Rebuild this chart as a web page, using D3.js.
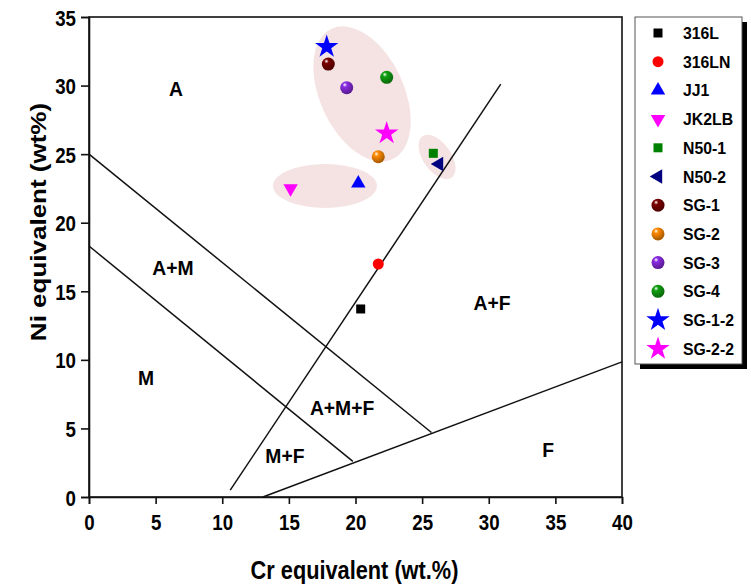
<!DOCTYPE html>
<html>
<head>
<meta charset="utf-8">
<script src="https://cdn.jsdelivr.net/npm/d3@7"></script>
<style>
  html, body { margin: 0; padding: 0; background: #fff; }
  svg { display: block; font-family: "Liberation Sans", Arial, sans-serif; }
</style>
</head>
<body>
<svg id="chart" width="751" height="586"></svg>
<script>
// ---- Data ----
const categories = ["316L","316LN","JJ1","JK2LB","N50-1","N50-2","SG-1","SG-2","SG-3","SG-4","SG-1-2","SG-2-2"];
const crEq = [20.39, 21.71, 20.21, 15.13, 25.84, 26.27, 17.96, 21.71, 19.34, 22.34, 17.84, 22.34];
const niEq = [13.71, 16.99, 22.87, 22.5, 25.06, 24.28, 31.57, 24.81, 29.85, 30.6, 32.83, 26.52];
const markerShapes = ["square","circle","triangleUp","triangleDown","square","triangleLeft","sphere","sphere","sphere","sphere","star","star"];
const markerColors = ["#000000","#ff0000","#0000ff","#ff00ff","#008000","#000080","#7a0000","#ff8a00","#8a2be2","#10a010","#0000ff","#ff00ff"];

const xTicks = [0,5,10,15,20,25,30,35,40];
const yTicks = [0,5,10,15,20,25,30,35];

// Schaeffler diagram phase boundaries (Cr eq, Ni eq)
const boundaryStart = [[0,25],[0,18.3],[10.6,0.5],[13.05,0]];
const boundaryEnd   = [[25.7,4.7],[19.8,2.6],[30.9,30.1],[40,9.85]];

const regionNames = ["A","A+M","M","A+M+F","M+F","A+F","F"];
const regionPos   = [[6.53,29.8],[6.3,16.7],[4.28,8.68],[18.99,6.49],[14.7,3.06],[30.24,14.15],[34.45,3.43]];

// highlight ellipses: centre (Cr, Ni), semi-axes in Cr units, rotation (deg)
const groupCentre = [[20.49,29.39],[26.12,24.79],[17.71,22.68]];
const groupAxes   = [[5.4,3.15],[1.9,1.05],[3.9,1.65]];
const groupAngle  = [65, 55, 0];

// ---- Layout ----
const svg = d3.select("#chart");
const M = {left: 89, right: 622, top: 17, bottom: 497};
const x = d3.scaleLinear().domain([0,40]).range([M.left, M.right]);
const y = d3.scaleLinear().domain([0,35]).range([M.bottom, M.top]);
const font = '"Liberation Sans", Arial, sans-serif';

function addText(parent, px, py, str, size, sx, anchor, rot, baseline) {
  return parent.append("text")
    .attr("transform", `translate(${px},${py}) scale(${sx},1)` + (rot ? ` rotate(${rot})` : ""))
    .attr("text-anchor", anchor || "middle")
    .attr("dominant-baseline", baseline || "auto")
    .style("font-family", font).style("font-weight", "bold").style("font-size", size + "px")
    .attr("fill", "#000")
    .text(str);
}

const defs = svg.append("defs");
markerColors.forEach((c,i) => {
  if (markerShapes[i] !== "sphere") return;
  const g = defs.append("radialGradient").attr("id","sph"+i)
    .attr("cx","38%").attr("cy","32%").attr("r","70%").attr("fx","35%").attr("fy","28%");
  g.append("stop").attr("offset","0%").attr("stop-color","#ffffff");
  g.append("stop").attr("offset","25%").attr("stop-color",c);
  g.append("stop").attr("offset","100%").attr("stop-color",d3.color(c).darker(1.3));
});

// ellipses
const ux = x(1) - x(0);
svg.append("g").selectAll("ellipse").data(groupCentre).join("ellipse")
  .attr("transform",(d,i)=>`translate(${x(d[0])},${y(d[1])}) rotate(${groupAngle[i]})`)
  .attr("rx",(d,i)=>groupAxes[i][0]*ux)
  .attr("ry",(d,i)=>groupAxes[i][1]*ux)
  .attr("fill","#f5e3e3");

// frame
svg.append("rect").attr("x",M.left).attr("y",M.top)
  .attr("width",M.right-M.left).attr("height",M.bottom-M.top)
  .attr("fill","none").attr("stroke","#111").attr("stroke-width",1.6);

// axes
const xAxis = svg.append("g").attr("transform",`translate(0,${M.bottom})`)
  .call(d3.axisBottom(x).tickValues(xTicks).tickSize(7).tickFormat(d3.format("d")));
const yAxis = svg.append("g").attr("transform",`translate(${M.left},0)`)
  .call(d3.axisLeft(y).tickValues(yTicks).tickSize(8).tickFormat(d3.format("d")));
[xAxis,yAxis].forEach(a=>{
  a.select(".domain").attr("stroke","#111").attr("stroke-width",1.6);
  a.selectAll(".tick line").attr("stroke","#111").attr("stroke-width",1.6);
  a.selectAll(".tick text").remove();
});
xAxis.selectAll(".tick").each(function(d){
  addText(d3.select(this), 0, 33, d3.format("d")(d), 22, 0.85, "middle");
});
yAxis.selectAll(".tick").each(function(d){
  addText(d3.select(this), -13, 8, d3.format("d")(d), 22, 0.85, "end");
});

// boundary lines
svg.append("g").selectAll("line").data(boundaryStart).join("line")
  .attr("x1",d=>x(d[0])).attr("y1",d=>y(d[1]))
  .attr("x2",(d,i)=>x(boundaryEnd[i][0])).attr("y2",(d,i)=>y(boundaryEnd[i][1]))
  .attr("stroke","#111").attr("stroke-width",1.5);

// region labels
const reg = svg.append("g");
regionNames.forEach((r,i)=>{
  addText(reg, x(regionPos[i][0]), y(regionPos[i][1]) + 7.5, r, 21, 0.92, "middle");
});

// marker drawing
function drawMarker(sel, shape, color, i, scale) {
  const s = scale || 1;
  if (shape === "square") {
    const h = 4.5*s;
    sel.append("rect").attr("x",-h).attr("y",-h).attr("width",2*h).attr("height",2*h).attr("fill",color);
  } else if (shape === "circle") {
    sel.append("circle").attr("r",5.5*s).attr("fill",color);
  } else if (shape === "sphere") {
    sel.append("circle").attr("r",6.5*s).attr("fill",`url(#sph${i})`);
  } else if (shape === "triangleUp") {
    sel.append("path").attr("d",d3.symbol(d3.symbolTriangle, 90*s*s)()).attr("fill",color);
  } else if (shape === "triangleDown") {
    sel.append("path").attr("d",d3.symbol(d3.symbolTriangle, 90*s*s)()).attr("transform","rotate(180)").attr("fill",color);
  } else if (shape === "triangleLeft") {
    sel.append("path").attr("d",d3.symbol(d3.symbolTriangle, 90*s*s)()).attr("transform","rotate(-90)").attr("fill",color);
  } else if (shape === "star") {
    sel.append("path").attr("d",d3.symbol(d3.symbolStar, 170*s*s)()).attr("fill",color);
  }
}

// points
const pts = svg.append("g");
categories.forEach((c,i)=>{
  const g = pts.append("g").attr("transform",`translate(${x(crEq[i])},${y(niEq[i])})`);
  drawMarker(g, markerShapes[i], markerColors[i], i, 1);
});

// axis titles
addText(svg, (M.left+M.right)/2 - 1, 579, "Cr equivalent (wt.%)", 25, 0.87, "middle");
addText(svg, 46, 222, "Ni equivalent (wt%)", 26, 0.82, "middle", -90);

// legend
const L = {x: 635, y: 17, w: 107, h: 347};
svg.append("rect").attr("x",L.x+5).attr("y",L.y+5).attr("width",L.w).attr("height",L.h).attr("fill","#000");
svg.append("rect").attr("x",L.x).attr("y",L.y).attr("width",L.w).attr("height",L.h)
  .attr("fill","#fff").attr("stroke","#555").attr("stroke-width",1);
const leg = svg.append("g");
categories.forEach((c,i)=>{
  const yy = 33 + i*28.7;
  const g = leg.append("g").attr("transform",`translate(658,${yy})`);
  drawMarker(g, markerShapes[i], markerColors[i], i, 1);
  addText(leg, 683, yy + 6, c, 17, 0.93, "start");
});
</script>
</body>
</html>
